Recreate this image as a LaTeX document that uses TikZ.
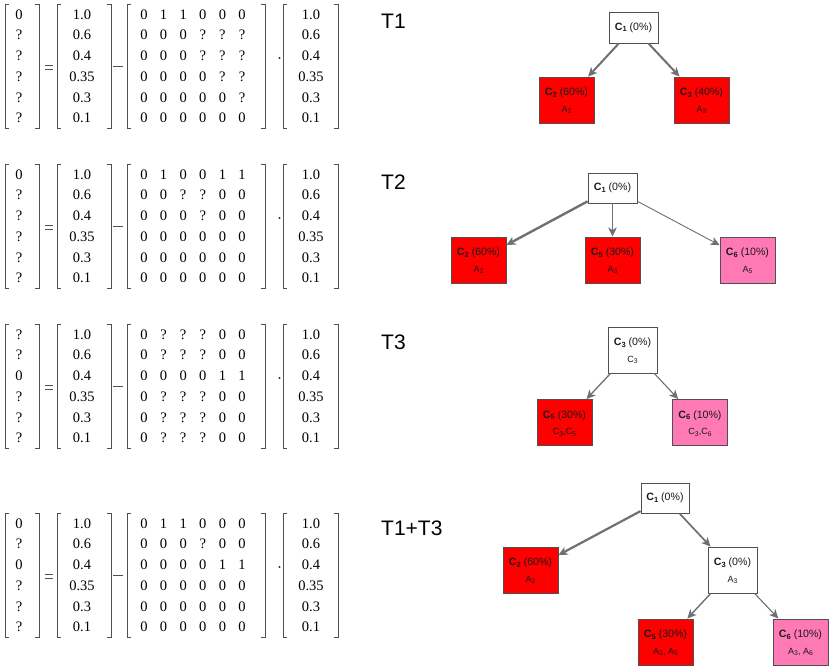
\documentclass[tikz,border=0pt]{standalone}
\usepackage{fontspec}
\setmainfont{Liberation Sans}
\newfontfamily\serifm{Liberation Serif}
\usetikzlibrary{arrows.meta}

\definecolor{boxred}{RGB}{255,0,0}
\definecolor{boxpink}{RGB}{255,122,180}
\definecolor{edgegray}{RGB}{112,112,112}
\definecolor{bordergray}{RGB}{80,80,80}
\definecolor{brkgray}{RGB}{80,80,80}
\definecolor{txt}{RGB}{25,25,25}

\newcommand\sbA[1]{\raisebox{-0.28ex}{\fontsize{7.5}{8}\selectfont #1}}
\newcommand\sbB[1]{\raisebox{-0.28ex}{\fontsize{6.8}{7}\selectfont #1}}

\tikzset{
  cbox/.style={draw=bordergray, line width=0.9pt, inner sep=0pt, minimum width=55pt, minimum height=46pt},
  wbox/.style={cbox, fill=white, minimum width=49pt},
  lone/.style={font=\fontsize{10.6}{12}\selectfont, text=txt},
  ltwo/.style={font=\fontsize{9}{10}\selectfont, text=txt},
  edge/.style={draw=edgegray, -{Stealth[length=9pt,width=8.5pt,inset=2.5pt]}},
  ment/.style={font=\serifm\fontsize{14.5}{16}\selectfont, inner sep=0pt, anchor=base},
  mop/.style={font=\serifm\fontsize{15}{16}\selectfont, inner sep=0pt},
  brk/.style={draw=brkgray, line width=0.8pt},
  ttl/.style={font=\fontsize{21}{24}\selectfont, inner sep=0pt, anchor=west}
}

% #1 prefix, #2 centre y, #3 first vector, #4 matrix rows
\newcommand\mblock[4]{%
  \foreach \e [count=\i] in {#3} {
    \node[ment] (#1a\i) at (19, {#2+(\i-3.5)*20.7+5}) {\e};
  }
  \foreach \e [count=\i] in {1.0,0.6,0.4,0.35,0.3,0.1} {
    \node[ment] (#1b\i) at (82, {#2+(\i-3.5)*20.7+5}) {\e};
    \node[ment] (#1d\i) at (311, {#2+(\i-3.5)*20.7+5}) {\e};
  }
  \foreach \r [count=\i] in {#4} {
    \foreach \e [count=\j] in \r {
      \node[ment] (#1m\i\j) at ({144+19.6*(\j-1)}, {#2+(\i-3.5)*20.7+5}) {\e};
    }
  }
  \node[mop, minimum width=8pt, minimum height=3.6pt] (#1eq) at (49, {#2+1}) {};
  \draw[brk, line width=0.7pt] (#1eq.north west) -- (#1eq.north east)
       (#1eq.south west) -- (#1eq.south east);
  \node[mop, minimum width=9pt, minimum height=0pt] (#1mi) at (118, #2) {};
  \draw[brk, line width=0.7pt] (#1mi.west) -- (#1mi.east);
  \node[mop] (#1dt) at (279.5, {#2-5}) {·};
  \draw[brk] (9,{#2-62}) -- (5,{#2-62}) -- (5,{#2+62}) -- (9,{#2+62});
  \draw[brk] (35,{#2-62}) -- (39,{#2-62}) -- (39,{#2+62}) -- (35,{#2+62});
  \draw[brk] (61,{#2-62}) -- (57,{#2-62}) -- (57,{#2+62}) -- (61,{#2+62});
  \draw[brk] (107,{#2-62}) -- (111,{#2-62}) -- (111,{#2+62}) -- (107,{#2+62});
  \draw[brk] (131,{#2-62}) -- (127,{#2-62}) -- (127,{#2+62}) -- (131,{#2+62});
  \draw[brk] (261,{#2-62}) -- (265,{#2-62}) -- (265,{#2+62}) -- (261,{#2+62});
  \draw[brk] (287,{#2-62}) -- (283,{#2-62}) -- (283,{#2+62}) -- (287,{#2+62});
  \draw[brk] (334,{#2-62}) -- (338,{#2-62}) -- (338,{#2+62}) -- (334,{#2+62});
}

\begin{document}
\begin{tikzpicture}[x=1pt, y=-1pt]
\useasboundingbox (0,0) rectangle (830,669);

% ---------- matrices ----------
\mblock{p}{66}{0,?,?,?,?,?}{{0,1,1,0,0,0},{0,0,0,?,?,?},{0,0,0,?,?,?},{0,0,0,0,?,?},{0,0,0,0,0,?},{0,0,0,0,0,0}}
\mblock{q}{226}{0,?,?,?,?,?}{{0,1,0,0,1,1},{0,0,?,?,0,0},{0,0,0,?,0,0},{0,0,0,0,0,0},{0,0,0,0,0,0},{0,0,0,0,0,0}}
\mblock{r}{386}{?,?,0,?,?,?}{{0,?,?,?,0,0},{0,?,?,?,0,0},{0,0,0,0,1,1},{0,?,?,?,0,0},{0,?,?,?,0,0},{0,?,?,?,0,0}}
\mblock{s}{575}{0,?,0,?,?,?}{{0,1,1,0,0,0},{0,0,0,?,0,0},{0,0,0,0,1,1},{0,0,0,0,0,0},{0,0,0,0,0,0},{0,0,0,0,0,0}}

% ---------- titles ----------
\node[ttl] (tt1) at (381,21) {T1};
\node[ttl] (tt2) at (381,182) {T2};
\node[ttl] (tt3) at (381,342) {T3};
\node[ttl] (tt4) at (381,528) {T1+T3};

% ---------- tree T1 ----------
\node[wbox, minimum height=31pt, lone] (ac1) at (633.5,27.5) {{\bfseries C\sbA{1}} (0\%)};
\node[cbox, fill=boxred,
  label={[lone, yshift=7pt]center:{{\bfseries C\sbA{2}} (60\%)}},
  label={[ltwo, yshift=-10pt]center:{A\sbB{2}}}] (ac2) at (566.5,100) {};
\node[cbox, fill=boxred,
  label={[lone, yshift=7pt]center:{{\bfseries C\sbA{3}} (40\%)}},
  label={[ltwo, yshift=-10pt]center:{A\sbB{3}}}] (ac3) at (701.5,100) {};
\draw[edge, line width=2pt] (ac1) -- (ac2);
\draw[edge, line width=2pt] (ac1) -- (ac3);

% ---------- tree T2 ----------
\node[wbox, minimum height=30pt, lone] (bc1) at (612.5,188) {{\bfseries C\sbA{1}} (0\%)};
\node[cbox, fill=boxred,
  label={[lone, yshift=7pt]center:{{\bfseries C\sbA{2}} (60\%)}},
  label={[ltwo, yshift=-10pt]center:{A\sbB{2}}}] (bc2) at (478.5,260) {};
\node[cbox, fill=boxred,
  label={[lone, yshift=7pt]center:{{\bfseries C\sbA{5}} (30\%)}},
  label={[ltwo, yshift=-10pt]center:{A\sbB{3}}}] (bc5) at (612.5,260) {};
\node[cbox, fill=boxpink,
  label={[lone, yshift=7pt]center:{{\bfseries C\sbA{6}} (10\%)}},
  label={[ltwo, yshift=-10pt]center:{A\sbB{5}}}] (bc6) at (747.5,260) {};
\draw[edge, line width=2.4pt] (bc1) -- (bc2);
\draw[edge, line width=1.5pt] (bc1) -- (bc5);
\draw[edge, line width=0.9pt] (bc1) -- (bc6);

% ---------- tree T3 ----------
\node[wbox,
  label={[lone, yshift=7pt]center:{{\bfseries C\sbA{3}} (0\%)}},
  label={[ltwo, yshift=-10pt]center:{C\sbB{3}}}] (cc3) at (632.5,350) {};
\node[cbox, fill=boxred,
  label={[lone, yshift=7pt]center:{{\bfseries C\sbA{5}} (30\%)}},
  label={[ltwo, yshift=-10pt]center:{C\sbB{3},C\sbB{5}}}] (cc5) at (564.5,422.5) {};
\node[cbox, fill=boxpink,
  label={[lone, yshift=7pt]center:{{\bfseries C\sbA{6}} (10\%)}},
  label={[ltwo, yshift=-10pt]center:{C\sbB{3},C\sbB{6}}}] (cc6) at (700,422.5) {};
\draw[edge, line width=1.3pt] (cc3) -- (cc5);
\draw[edge, line width=1.1pt] (cc3) -- (cc6);

% ---------- tree T1+T3 ----------
\node[wbox, minimum width=48pt, minimum height=30pt, lone] (dc1) at (665,498) {{\bfseries C\sbA{1}} (0\%)};
\node[cbox, fill=boxred,
  label={[lone, yshift=7pt]center:{{\bfseries C\sbA{2}} (60\%)}},
  label={[ltwo, yshift=-10pt]center:{A\sbB{2}}}] (dc2) at (530.5,570) {};
\node[wbox,
  label={[lone, yshift=7pt]center:{{\bfseries C\sbA{3}} (0\%)}},
  label={[ltwo, yshift=-10pt]center:{A\sbB{3}}}] (dc3) at (732.5,570) {};
\node[cbox, fill=boxred,
  label={[lone, yshift=7pt]center:{{\bfseries C\sbA{5}} (30\%)}},
  label={[ltwo, yshift=-10pt]center:{A\sbB{3}, A\sbB{5}}}] (dc5) at (665.5,642) {};
\node[cbox, fill=boxpink,
  label={[lone, yshift=7pt]center:{{\bfseries C\sbA{6}} (10\%)}},
  label={[ltwo, yshift=-10pt]center:{A\sbB{3}, A\sbB{6}}}] (dc6) at (800.5,642) {};
\draw[edge, line width=2.2pt] (dc1) -- (dc2);
\draw[edge, line width=1.7pt] (dc1) -- (dc3);
\draw[edge, line width=1.4pt] (dc3) -- (dc5);
\draw[edge, line width=1.1pt] (dc3) -- (dc6);
\end{tikzpicture}
\end{document}
